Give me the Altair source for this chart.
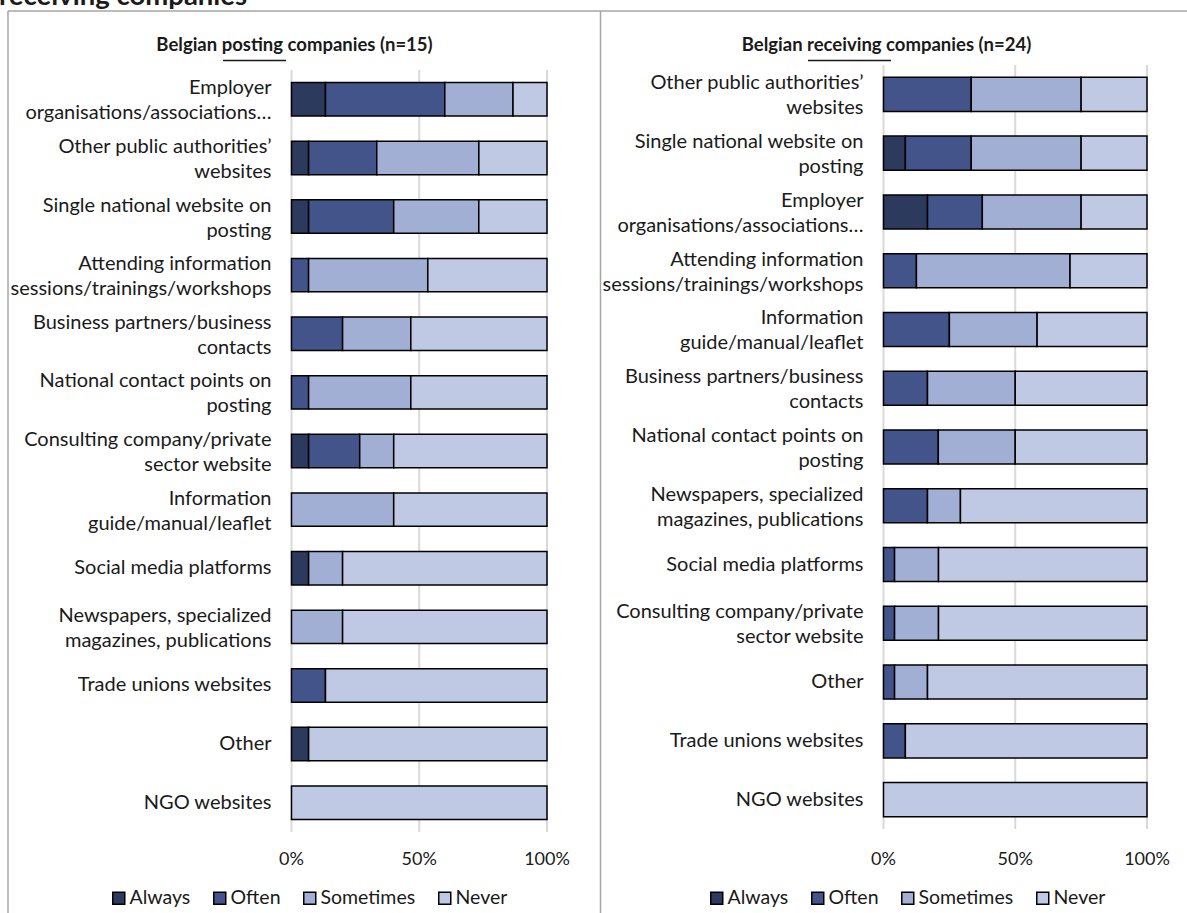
import altair as alt
import pandas as pd

FONT = "Lato"
TEXT_COLOR = "#1a1a1a"

responses = ["Always", "Often", "Sometimes", "Never"]
colors = ["#2C3A5E", "#42548A", "#A0AFD3", "#BFC9E3"]

# Left panel: Belgian posting companies (n=15), top to bottom
left_categories = [
    "Employer\norganisations/associations…",
    "Other public authorities’\nwebsites",
    "Single national website on\nposting",
    "Attending information\nsessions/trainings/workshops",
    "Business partners/business\ncontacts",
    "National contact points on\nposting",
    "Consulting company/private\nsector website",
    "Information\nguide/manual/leaflet",
    "Social media platforms",
    "Newspapers, specialized\nmagazines, publications",
    "Trade unions websites",
    "Other",
    "NGO websites",
]
left_always =    [13.3, 6.7, 6.7, 0.0, 0.0, 0.0, 6.7, 0.0, 6.7, 0.0, 0.0, 6.7, 0.0]
left_often =     [46.7, 26.7, 33.3, 6.7, 20.0, 6.7, 20.0, 0.0, 0.0, 0.0, 13.3, 0.0, 0.0]
left_sometimes = [26.7, 40.0, 33.3, 46.7, 26.7, 40.0, 13.3, 40.0, 13.3, 20.0, 0.0, 0.0, 0.0]
left_never =     [13.3, 26.7, 26.7, 46.7, 53.3, 53.3, 60.0, 60.0, 80.0, 80.0, 86.7, 93.3, 100.0]

# Right panel: Belgian receiving companies (n=24), top to bottom
right_categories = [
    "Other public authorities’\nwebsites",
    "Single national website on\nposting",
    "Employer\norganisations/associations…",
    "Attending information\nsessions/trainings/workshops",
    "Information\nguide/manual/leaflet",
    "Business partners/business\ncontacts",
    "National contact points on\nposting",
    "Newspapers, specialized\nmagazines, publications",
    "Social media platforms",
    "Consulting company/private\nsector website",
    "Other",
    "Trade unions websites",
    "NGO websites",
]
right_always =    [0.0, 8.3, 16.7, 0.0, 0.0, 0.0, 0.0, 0.0, 0.0, 0.0, 0.0, 0.0, 0.0]
right_often =     [33.3, 25.0, 20.8, 12.5, 25.0, 16.7, 20.8, 16.7, 4.2, 4.2, 4.2, 8.3, 0.0]
right_sometimes = [41.7, 41.7, 37.5, 58.3, 33.3, 33.3, 29.2, 12.5, 16.7, 16.7, 12.5, 0.0, 0.0]
right_never =     [25.0, 25.0, 25.0, 29.2, 41.7, 50.0, 50.0, 70.8, 79.2, 79.2, 83.3, 91.7, 100.0]

tick_values = [0, 0.5, 1]
tick_labels = ["0%", "50%", "100%"]

left_title = "Belgian posting companies (n=15)"
right_title = "Belgian receiving companies (n=24)"
top_title = "receiving companies"


def long_df(cats, series):
    rows = []
    for i, c in enumerate(cats):
        for j, r in enumerate(responses):
            rows.append({"category": c, "response": r, "order": j, "value": series[j][i]})
    return pd.DataFrame(rows)


def panel(cats, series, xr, yr, pad_inner, label_x, legend_x):
    df = long_df(cats, series)
    ticks_df = pd.DataFrame({"tick": tick_values, "label": tick_labels})
    cat_df = pd.DataFrame({"category": cats})
    xs = alt.Scale(domain=[0, 1], range=xr, nice=False)
    ys = alt.Scale(domain=cats, range=yr, paddingInner=pad_inner, paddingOuter=pad_inner / 2)

    grid = alt.Chart(ticks_df).mark_rule(color="#D9D9D9", strokeWidth=2).encode(
        x=alt.X("tick:Q", scale=xs, axis=None),
        y=alt.value(yr[0]),
        y2=alt.value(yr[1]),
    )
    bars = alt.Chart(df).transform_filter("datum.value > 0").mark_bar(
        stroke="black", strokeWidth=1.5
    ).encode(
        x=alt.X("value:Q", stack="normalize", scale=xs, axis=None),
        y=alt.Y("category:N", scale=ys, axis=None),
        color=alt.Color(
            "response:N",
            scale=alt.Scale(domain=responses, range=colors),
            legend=alt.Legend(
                orient="none", legendX=legend_x, legendY=888, direction="horizontal",
                title=None, symbolType="square", symbolSize=144,
                symbolStrokeColor="black", symbolStrokeWidth=1.5,
                labelFont=FONT, labelFontSize=19.5, labelColor=TEXT_COLOR,
                labelOffset=1, columnPadding=19, padding=0,
            ),
        ),
        order=alt.Order("order:Q"),
    )
    text_style = dict(align="right", baseline="middle", lineBreak="\n", fontSize=20,
                      font=FONT, color=TEXT_COLOR, lineHeight=25)
    labels_single = alt.Chart(cat_df).transform_filter(
        "indexof(datum.category, '\\n') < 0"
    ).mark_text(**text_style).encode(
        y=alt.Y("category:N", scale=ys, axis=None),
        x=alt.value(label_x),
        text="category:N",
    )
    labels_multi = alt.Chart(cat_df).transform_filter(
        "indexof(datum.category, '\\n') >= 0"
    ).mark_text(dy=-11, **text_style).encode(
        y=alt.Y("category:N", scale=ys, axis=None),
        x=alt.value(label_x),
        text="category:N",
    )
    tick_text = alt.Chart(ticks_df).mark_text(
        align="center", baseline="middle", fontSize=18, font=FONT, color=TEXT_COLOR,
    ).encode(
        x=alt.X("tick:Q", scale=xs, axis=None),
        y=alt.value(860),
        text="label:N",
    )
    return alt.layer(grid, bars, labels_single, labels_multi, tick_text)


left = panel(left_categories, [left_always, left_often, left_sometimes, left_never],
             [291.5, 547], [70, 832], 0.43, 271.5, 109)
right = panel(right_categories, [right_always, right_often, right_sometimes, right_never],
              [883.5, 1147], [65, 829], 0.42, 863.5, 707)

dummy = pd.DataFrame({"d": [0]})
FRAME = "#A6A6A6"
frame_top = alt.Chart(dummy).mark_rule(color=FRAME, strokeWidth=1.5).encode(
    x=alt.value(8), x2=alt.value(1187), y=alt.value(11))
frame_left = alt.Chart(dummy).mark_rule(color=FRAME, strokeWidth=1.5).encode(
    x=alt.value(8), y=alt.value(11), y2=alt.value(913))
divider = alt.Chart(dummy).mark_rule(color=FRAME, strokeWidth=1.5).encode(
    x=alt.value(600.5), y=alt.value(11), y2=alt.value(913))

title_style = dict(fontWeight="bold", fontSize=18.5, font=FONT, align="center",
                   baseline="alphabetic", color=TEXT_COLOR)
title_l = alt.Chart(dummy).mark_text(**title_style).encode(
    x=alt.value(294.5), y=alt.value(51), text=alt.value(left_title))
title_r = alt.Chart(dummy).mark_text(**title_style).encode(
    x=alt.value(886.5), y=alt.value(51), text=alt.value(right_title))
ul_l = alt.Chart(dummy).mark_rule(color=TEXT_COLOR, strokeWidth=1.3).encode(
    x=alt.value(223), x2=alt.value(286), y=alt.value(60.5))
ul_r = alt.Chart(dummy).mark_rule(color=TEXT_COLOR, strokeWidth=1.3).encode(
    x=alt.value(808), x2=alt.value(891), y=alt.value(60.5))
top_text = alt.Chart(dummy).mark_text(
    fontWeight="bold", fontSize=27.5, font=FONT, align="left", baseline="alphabetic", color=TEXT_COLOR
).encode(x=alt.value(-1), y=alt.value(5), text=alt.value(top_title))

chart = alt.layer(
    left, right, frame_top, frame_left, divider, title_l, title_r, ul_l, ul_r, top_text
).resolve_scale(
    x="independent", y="independent", color="independent"
).properties(
    width=1187, height=913, autosize=alt.AutoSizeParams(type="none"), padding=0,
    background="white",
).configure_view(stroke=None)

chart.save("out.html", embed_options={"renderer": "svg", "actions": False})
